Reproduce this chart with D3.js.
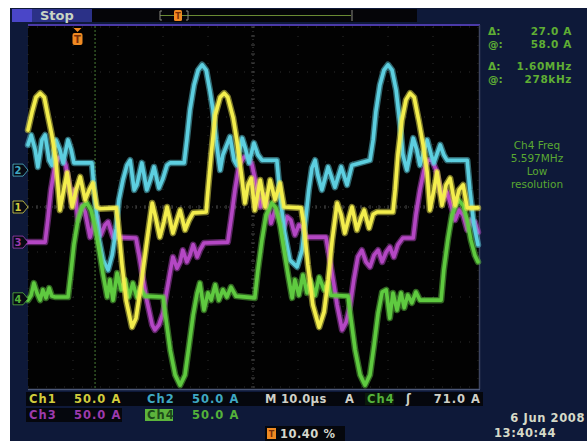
<!DOCTYPE html>
<html>
<head>
<meta charset="utf-8">
<script src="https://cdn.jsdelivr.net/npm/d3@7"></script>
<style>
html, body { margin: 0; padding: 0; background: #ffffff; }
svg { display: block; }
</style>
</head>
<body>
<svg id="scope"></svg>
<script>
const w = 587
const h = 441

// screen graticule: 10 x 8 divisions
const plotLeft = 28, plotRight = 478, plotTop = 27, plotBottom = 387

// time in µs (10 µs/div), level in divisions from screen centre
const timeDomain = [0, 100]
const divDomain = [-4, 4]

const ch1Trace = [[0.0,1.71],[0.9,2.11],[1.8,2.44],[2.7,2.53],[3.6,2.44],[4.4,2.04],[5.3,1.60],[6.2,1.04],[7.1,-0.07],[8.0,0.42],[8.7,0.76],[9.8,0.00],[10.7,0.38],[11.6,0.67],[12.7,0.16],[13.6,0.38],[14.4,0.53],[15.3,0.00],[16.0,-0.04],[19.6,-0.02],[20.0,-0.33],[20.9,-1.29],[21.8,-2.07],[23.1,-2.67],[24.0,-2.47],[24.9,-1.89],[25.8,-1.22],[26.7,-0.56],[27.6,0.09],[28.4,-0.24],[29.3,-0.67],[30.2,-0.33],[30.9,0.00],[32.2,-0.58],[33.1,-0.29],[33.8,-0.07],[34.9,-0.51],[35.8,-0.29],[36.7,-0.13],[39.6,-0.11],[40.0,0.38],[40.7,1.16],[41.6,2.04],[42.7,2.44],[43.6,2.53],[44.4,2.44],[45.6,1.98],[46.4,1.49],[47.3,0.82],[48.2,0.09],[48.9,0.49],[49.6,0.64],[50.4,-0.07],[51.6,0.60],[52.7,0.00],[53.8,0.60],[54.9,0.16],[56.0,0.53],[56.9,0.00],[60.7,-0.02],[61.3,-0.40],[62.2,-1.29],[63.3,-2.18],[64.7,-2.67],[65.8,-2.33],[66.7,-1.62],[67.6,-0.73],[68.7,0.09],[69.6,-0.18],[70.4,-0.58],[71.3,-0.24],[72.0,0.00],[73.1,-0.51],[74.0,-0.24],[74.7,-0.07],[75.8,-0.47],[76.7,-0.16],[77.6,-0.11],[81.1,-0.11],[81.6,0.38],[82.2,1.16],[83.1,1.93],[84.0,2.38],[84.9,2.53],[85.8,2.44],[86.9,1.89],[87.8,1.38],[88.7,0.78],[89.3,-0.07],[90.2,0.38],[90.9,0.78],[92.0,0.04],[92.9,0.49],[93.8,0.64],[94.9,0.04],[95.8,0.38],[96.7,0.49],[97.6,-0.02],[100.0,-0.02]]

const ch2Trace = [[0.0,1.38],[0.7,1.60],[1.6,1.27],[2.2,0.89],[3.1,1.49],[3.8,1.60],[4.7,1.04],[5.3,0.93],[6.2,1.49],[7.1,1.27],[7.8,0.98],[8.9,1.49],[9.6,1.27],[10.2,0.98],[14.2,0.98],[14.9,0.16],[15.8,-0.73],[16.7,-1.18],[17.8,-1.40],[18.7,-1.07],[19.6,-0.47],[20.2,0.16],[21.1,0.60],[22.0,0.93],[22.7,1.04],[23.6,0.38],[24.2,0.49],[25.3,0.98],[26.4,0.38],[27.3,0.64],[28.0,0.89],[29.1,0.42],[30.0,0.64],[30.9,0.93],[31.6,0.98],[34.7,0.98],[35.3,1.49],[36.0,2.16],[36.9,2.71],[37.8,3.04],[38.7,3.16],[39.6,3.04],[40.4,2.60],[41.1,2.16],[41.8,1.49],[42.7,0.82],[43.3,1.16],[44.9,1.56],[45.8,1.04],[46.4,0.93],[47.6,1.53],[48.4,1.27],[49.1,0.98],[50.2,1.42],[51.1,1.16],[52.0,1.04],[55.3,1.04],[56.0,0.27],[56.9,-0.51],[58.2,-1.18],[59.8,-1.33],[60.9,-0.96],[61.8,-0.18],[62.4,0.38],[63.1,0.87],[63.8,1.04],[64.4,0.71],[65.3,0.38],[66.7,0.89],[68.2,0.44],[69.6,0.89],[70.9,0.49],[72.0,0.93],[76.0,1.04],[76.7,1.49],[77.3,2.11],[78.2,2.71],[79.1,3.04],[80.0,3.16],[80.9,3.04],[81.8,2.60],[82.7,1.82],[83.3,1.16],[84.2,0.82],[85.6,1.53],[86.4,1.27],[87.1,0.93],[88.7,1.49],[89.6,1.16],[90.2,0.98],[91.6,1.38],[92.4,1.16],[93.1,1.04],[97.6,1.04],[98.2,0.38],[99.1,-0.40],[100.0,-0.84]]

const ch3Trace = [[0.0,-0.78],[3.8,-0.78],[4.4,-0.29],[5.1,0.38],[6.0,0.93],[6.7,1.09],[7.6,1.11],[8.4,0.93],[9.3,0.38],[9.8,0.09],[10.4,0.38],[11.1,-0.29],[12.0,0.04],[12.7,-0.11],[13.8,-0.67],[14.7,-0.33],[15.3,-0.22],[16.2,-0.62],[17.1,-0.40],[17.8,-0.33],[18.9,-0.67],[24.0,-0.69],[24.7,-1.07],[25.6,-1.62],[26.4,-2.07],[27.6,-2.62],[28.2,-2.73],[29.1,-2.62],[30.0,-2.36],[30.9,-1.84],[31.6,-1.44],[32.2,-1.11],[33.1,-1.36],[33.8,-1.22],[34.4,-0.96],[35.3,-1.22],[36.0,-1.07],[36.7,-0.84],[37.6,-1.11],[38.2,-0.96],[39.1,-0.80],[44.4,-0.78],[45.1,-0.29],[46.0,0.38],[46.9,0.93],[48.0,1.11],[48.9,1.11],[49.8,0.93],[50.7,0.49],[51.6,0.00],[52.4,0.27],[53.3,0.04],[54.0,-0.36],[54.9,-0.07],[55.8,-0.18],[56.7,-0.51],[57.6,-0.22],[58.4,-0.29],[59.3,-0.62],[60.2,-0.40],[61.1,-0.47],[61.8,-0.67],[66.2,-0.67],[66.9,-1.07],[67.8,-1.62],[68.7,-2.18],[69.8,-2.73],[70.7,-2.56],[71.6,-2.18],[72.4,-1.62],[73.3,-1.11],[74.2,-0.96],[75.1,-1.22],[76.0,-1.33],[76.9,-1.07],[77.8,-0.96],[78.7,-1.22],[79.6,-1.00],[80.4,-0.89],[81.3,-1.11],[82.2,-0.84],[83.3,-0.69],[85.6,-0.69],[86.2,-0.18],[87.1,0.38],[88.0,0.82],[88.9,1.04],[89.8,1.04],[90.7,0.82],[91.6,0.38],[92.2,0.16],[93.1,0.33],[94.0,0.04],[94.9,-0.29],[95.8,-0.07],[96.7,-0.18],[97.6,-0.51],[98.4,-0.29],[99.3,-0.33],[100.0,-0.56]]

const ch4Trace = [[0.0,-2.07],[0.7,-1.96],[1.3,-1.69],[2.0,-1.91],[2.7,-2.07],[3.3,-1.84],[4.0,-2.02],[4.7,-1.80],[5.3,-1.98],[6.0,-2.00],[8.9,-2.00],[9.6,-1.40],[10.2,-0.84],[11.1,-0.29],[12.0,0.00],[13.1,0.09],[14.0,-0.07],[14.9,-0.44],[15.8,-0.96],[16.7,-1.51],[17.6,-2.00],[18.2,-1.62],[18.9,-2.07],[19.8,-1.47],[20.7,-1.84],[21.6,-1.62],[22.4,-2.00],[23.3,-1.69],[24.2,-2.00],[24.9,-1.80],[26.0,-1.98],[30.0,-2.00],[30.7,-2.51],[31.6,-3.18],[32.7,-3.73],[33.8,-3.96],[34.9,-3.73],[35.8,-3.07],[36.7,-2.40],[37.6,-1.91],[38.2,-1.69],[39.1,-2.29],[40.0,-1.91],[40.7,-2.07],[41.6,-1.73],[42.4,-2.07],[43.3,-1.84],[44.2,-2.00],[45.1,-1.78],[46.2,-1.98],[50.4,-2.02],[51.1,-1.40],[52.0,-0.73],[52.9,-0.18],[54.2,0.09],[55.1,-0.02],[56.0,-0.40],[56.9,-0.96],[57.8,-1.51],[58.7,-2.02],[59.3,-1.62],[60.2,-1.96],[61.1,-1.51],[62.0,-1.91],[62.7,-1.62],[63.8,-1.96],[64.7,-1.56],[65.8,-1.84],[66.7,-1.69],[67.3,-1.96],[71.1,-1.98],[71.8,-2.51],[72.7,-3.18],[73.8,-3.73],[74.9,-3.96],[76.0,-3.73],[76.9,-3.07],[77.8,-2.36],[78.7,-1.89],[79.6,-1.84],[80.4,-2.47],[81.1,-1.91],[82.0,-2.29],[82.9,-1.91],[83.6,-2.24],[84.4,-1.96],[85.3,-2.13],[86.2,-1.89],[87.1,-2.07],[91.8,-2.07],[92.4,-1.40],[93.3,-0.73],[94.2,-0.18],[95.6,0.16],[96.7,0.04],[97.6,-0.29],[98.4,-0.73],[99.3,-1.07],[100.0,-1.22]]

// channel settings
const channelNames = ["Ch1", "Ch2", "Ch3", "Ch4"]
const channelScale = ["50.0 A", "50.0 A", "50.0 A", "50.0 A"]
const traceColors = ["#f3ee4e", "#5dcfe0", "#b447c4", "#5fca3f"]
const labelColors = ["#d2cc3c", "#3fa8c2", "#9c3aac", "#54b23a"]
const groundLevels = [0.0, 0.82, -0.78, -2.04]
const markerLabels = ["1", "2", "3", "4"]
const drawOrder = [2, 1, 3, 0]

// readouts
const cursorLabels = ["Δ:", "@:", "Δ:", "@:"]
const cursorValues = ["27.0 A", "58.0 A", "1.60MHz", "278kHz"]
const freqLines = ["Ch4 Freq", "5.597MHz", "Low", "resolution"]
const cursorTime = 14.9
const triggerTime = 11.0
const timebase = "M 10.0µs"
const triggerInfo = ["A", "Ch4", "ʃ", "71.0 A"]
const triggerPercent = "10.40 %"
const dateLines = ["6 Jun 2008", "13:40:44"]

const svg = d3.select("#scope").attr("width", w).attr("height", h)

const x = d3.scaleLinear().domain(timeDomain).range([plotLeft, plotRight])
const y = d3.scaleLinear().domain(divDomain).range([plotBottom, plotTop])

const font = "'DejaVu Sans', sans-serif"

// slight softening, the reference is a photo of the screen
svg.append("defs").append("filter").attr("id", "soft")
    .append("feGaussianBlur").attr("stdDeviation", 0.45)

let drawFrame = () => {
    svg.append("rect").attr("x", 0).attr("y", 0).attr("width", w).attr("height", h).attr("fill", "#ffffff")
    svg.append("rect").attr("x", 10).attr("y", 8).attr("width", w - 10).attr("height", h - 8).attr("fill", "#0e1939")
    // top status bar
    svg.append("rect").attr("x", 92).attr("y", 9).attr("width", 325).attr("height", 13).attr("fill", "#050508")
    svg.append("rect").attr("x", 12).attr("y", 9).attr("width", 80).attr("height", 13).attr("fill", "#2b3187")
    svg.append("rect").attr("x", 12).attr("y", 9).attr("width", 20).attr("height", 13).attr("fill", "#4a46c8")
    svg.append("text").attr("x", 40).attr("y", 20).text("Stop")
        .attr("font-family", font).attr("font-weight", "bold").attr("font-size", 13).attr("fill", "#c9d6c4")
    // plot area
    svg.append("rect").attr("x", plotLeft).attr("y", plotTop - 2).attr("width", plotRight - plotLeft + 1).attr("height", plotBottom - plotTop + 4).attr("fill", "#020202")
    svg.append("line").attr("x1", plotLeft).attr("x2", plotRight + 2).attr("y1", plotTop - 2).attr("y2", plotTop - 2).attr("stroke", "#4b3aa8").attr("stroke-width", 2)
    svg.append("line").attr("x1", plotLeft).attr("x2", plotRight + 2).attr("y1", plotBottom + 2.5).attr("y2", plotBottom + 2.5).attr("stroke", "#4c5878").attr("stroke-width", 1.5)
    svg.append("line").attr("x1", plotRight + 1.5).attr("x2", plotRight + 1.5).attr("y1", plotTop - 2).attr("y2", plotBottom + 2).attr("stroke", "#3c4460").attr("stroke-width", 1.5)
}

let drawGrid = () => {
    const g = svg.append("g")
    const xs = d3.range(0, 101, 10)
    const ys = d3.range(-4, 4.01, 1)
    g.selectAll(".gv").data(xs).enter().append("line")
        .attr("x1", d => x(d)).attr("x2", d => x(d)).attr("y1", plotTop).attr("y2", plotBottom)
        .attr("stroke", "#2c2c2c").attr("stroke-width", 1).attr("stroke-dasharray", "1,8")
    g.selectAll(".gh").data(ys).enter().append("line")
        .attr("x1", plotLeft).attr("x2", plotRight).attr("y1", d => y(d)).attr("y2", d => y(d))
        .attr("stroke", "#2c2c2c").attr("stroke-width", 1).attr("stroke-dasharray", "1,8")
    // centre cross with minor ticks
    g.append("line").attr("x1", x(50)).attr("x2", x(50)).attr("y1", plotTop).attr("y2", plotBottom)
        .attr("stroke", "#444444").attr("stroke-dasharray", "1,3")
    g.append("line").attr("x1", plotLeft).attr("x2", plotRight).attr("y1", y(0)).attr("y2", y(0))
        .attr("stroke", "#444444").attr("stroke-dasharray", "1,3")
    g.selectAll(".tx").data(d3.range(0, 100.1, 2)).enter().append("line")
        .attr("x1", d => x(d)).attr("x2", d => x(d)).attr("y1", y(0) - 2).attr("y2", y(0) + 2)
        .attr("stroke", "#444444")
    g.selectAll(".ty").data(d3.range(-4, 4.01, 0.2)).enter().append("line")
        .attr("x1", x(50) - 2).attr("x2", x(50) + 2).attr("y1", d => y(d)).attr("y2", d => y(d))
        .attr("stroke", "#444444")
    // cursor
    g.append("line").attr("x1", x(cursorTime)).attr("x2", x(cursorTime)).attr("y1", plotTop - 1).attr("y2", plotBottom + 1)
        .attr("stroke", "#3f6a2e").attr("stroke-width", 1.2).attr("stroke-dasharray", "2,2")
}

let drawTraces = () => {
    const traces = [ch1Trace, ch2Trace, ch3Trace, ch4Trace]
    const line = d3.line().x(d => x(d[0])).y(d => y(d[1])).curve(d3.curveLinear)
    const g = svg.append("g").attr("filter", "url(#soft)")
    drawOrder.forEach(i => {
        g.append("path").attr("d", line(traces[i])).attr("fill", "none")
            .attr("stroke", traceColors[i]).attr("stroke-opacity", 0.5).attr("stroke-width", 6.5)
            .attr("stroke-linejoin", "round").attr("stroke-linecap", "round")
        g.append("path").attr("d", line(traces[i])).attr("fill", "none")
            .attr("stroke", traceColors[i]).attr("stroke-width", 3.6)
            .attr("stroke-linejoin", "round").attr("stroke-linecap", "round")
    })
}

let drawMarkers = () => {
    const g = svg.append("g")
    markerLabels.forEach((m, i) => {
        const cy = y(groundLevels[i])
        g.append("path")
            .attr("d", `M13,${cy - 6} L23,${cy - 6} L28,${cy} L23,${cy + 6} L13,${cy + 6} Z`)
            .attr("fill", "#070a14").attr("stroke", traceColors[i]).attr("stroke-width", 1).attr("stroke-opacity", 0.7)
        g.append("text").attr("x", 18).attr("y", cy + 4).attr("text-anchor", "middle").text(m)
            .attr("font-family", font).attr("font-weight", "bold").attr("font-size", 10).attr("fill", labelColors[i])
    })
    // trigger position marker on the plot
    const tx = x(triggerTime)
    g.append("path").attr("d", `M${tx - 4},${plotTop + 1} L${tx + 4},${plotTop + 1} L${tx},${plotTop + 5} Z`).attr("fill", "#f08a22")
    g.append("rect").attr("x", tx - 5).attr("y", plotTop + 6).attr("width", 10).attr("height", 12).attr("rx", 2).attr("fill", "#f08a22")
    g.append("text").attr("x", tx).attr("y", plotTop + 16).attr("text-anchor", "middle").text("T")
        .attr("font-family", font).attr("font-weight", "bold").attr("font-size", 10).attr("fill", "#7a3008")
    // trigger position in record (top bar)
    g.append("line").attr("x1", 160).attr("x2", 351).attr("y1", 15.5).attr("y2", 15.5).attr("stroke", "#6a8a34").attr("stroke-width", 1)
    g.append("path").attr("d", "M162,11 L160,11 L160,20 L162,20").attr("fill", "none").attr("stroke", "#8a8a80")
    g.append("path").attr("d", "M186,11 L188,11 L188,20 L186,20").attr("fill", "none").attr("stroke", "#8a8a80")
    g.append("line").attr("x1", 352).attr("x2", 352).attr("y1", 10).attr("y2", 21).attr("stroke", "#8a8a80")
    g.append("rect").attr("x", 174).attr("y", 10).attr("width", 8).attr("height", 11).attr("rx", 1.5).attr("fill", "#f08a22")
    g.append("text").attr("x", 178).attr("y", 19).attr("text-anchor", "middle").text("T")
        .attr("font-family", font).attr("font-weight", "bold").attr("font-size", 8).attr("fill", "#7a3008")
}

let drawReadouts = () => {
    const g = svg.append("g").attr("font-family", font).attr("font-weight", "bold").attr("font-size", 10.5)
    const rows = [35, 48, 70, 83]
    cursorLabels.forEach((c, i) => {
        g.append("text").attr("x", 488).attr("y", rows[i]).text(c).attr("fill", "#5fae34")
        g.append("text").attr("x", 572).attr("y", rows[i]).attr("text-anchor", "end").text(cursorValues[i])
            .attr("fill", "#5fae34").attr("letter-spacing", 0.6)
    })
    freqLines.forEach((t, i) => {
        g.append("text").attr("x", 537).attr("y", 149 + i * 13).attr("text-anchor", "middle").text(t)
            .attr("fill", "#5aa832").attr("font-weight", "normal")
    })

    // bottom channel settings
    const b = svg.append("g").attr("font-family", font).attr("font-weight", "bold").attr("font-size", 11.5).attr("letter-spacing", 1)
    b.append("rect").attr("x", 26).attr("y", 392).attr("width", 457).attr("height", 14).attr("fill", "#05070d")
    b.append("rect").attr("x", 26).attr("y", 408).attr("width", 96).attr("height", 14).attr("fill", "#05070d")
    b.append("rect").attr("x", 145).attr("y", 409).attr("width", 28).attr("height", 12).attr("fill", "#5cb43c")
    b.append("rect").attr("x", 365).attr("y", 393).attr("width", 29).attr("height", 12).attr("fill", "#0a1a0a")
    const pos = [[29, 403], [147, 403], [29, 419], [147, 419]]
    channelNames.forEach((c, i) => {
        b.append("text").attr("x", pos[i][0]).attr("y", pos[i][1]).text(c)
            .attr("fill", i == 3 ? "#1c4a1a" : labelColors[i])
        b.append("text").attr("x", pos[i][0] + 45).attr("y", pos[i][1]).text(channelScale[i])
            .attr("fill", labelColors[i])
    })
    b.append("text").attr("x", 265).attr("y", 403).text(timebase).attr("fill", "#cfd0c8").attr("letter-spacing", 0.3)
    b.append("text").attr("x", 345).attr("y", 403).text(triggerInfo[0]).attr("fill", "#cfd0c8")
    b.append("text").attr("x", 367).attr("y", 403).text(triggerInfo[1]).attr("fill", labelColors[3])
    b.append("text").attr("x", 406).attr("y", 403).text(triggerInfo[2]).attr("fill", "#cfd0c8")
    b.append("text").attr("x", 481).attr("y", 403).attr("text-anchor", "end").text(triggerInfo[3]).attr("fill", "#cfd0c8")

    b.append("rect").attr("x", 265).attr("y", 426).attr("width", 80).attr("height", 15).attr("fill", "#05070d")
    b.append("rect").attr("x", 267).attr("y", 428).attr("width", 9).attr("height", 11).attr("fill", "#f08a22")
    b.append("text").attr("x", 271.5).attr("y", 437).attr("text-anchor", "middle").text("T")
        .attr("font-size", 8).attr("letter-spacing", 0).attr("fill", "#7a3008")
    b.append("text").attr("x", 280).attr("y", 438).text(triggerPercent).attr("fill", "#d4d6cc").attr("letter-spacing", 0.5)

    b.append("text").attr("x", 585).attr("y", 422).attr("text-anchor", "end").text(dateLines[0]).attr("fill", "#d6dac8").attr("letter-spacing", 0.6)
    b.append("text").attr("x", 494).attr("y", 437).text(dateLines[1]).attr("fill", "#d6dac8").attr("letter-spacing", 0.6)
}

drawFrame()
drawGrid()
drawTraces()
drawMarkers()
drawReadouts()
</script>
</body>
</html>
